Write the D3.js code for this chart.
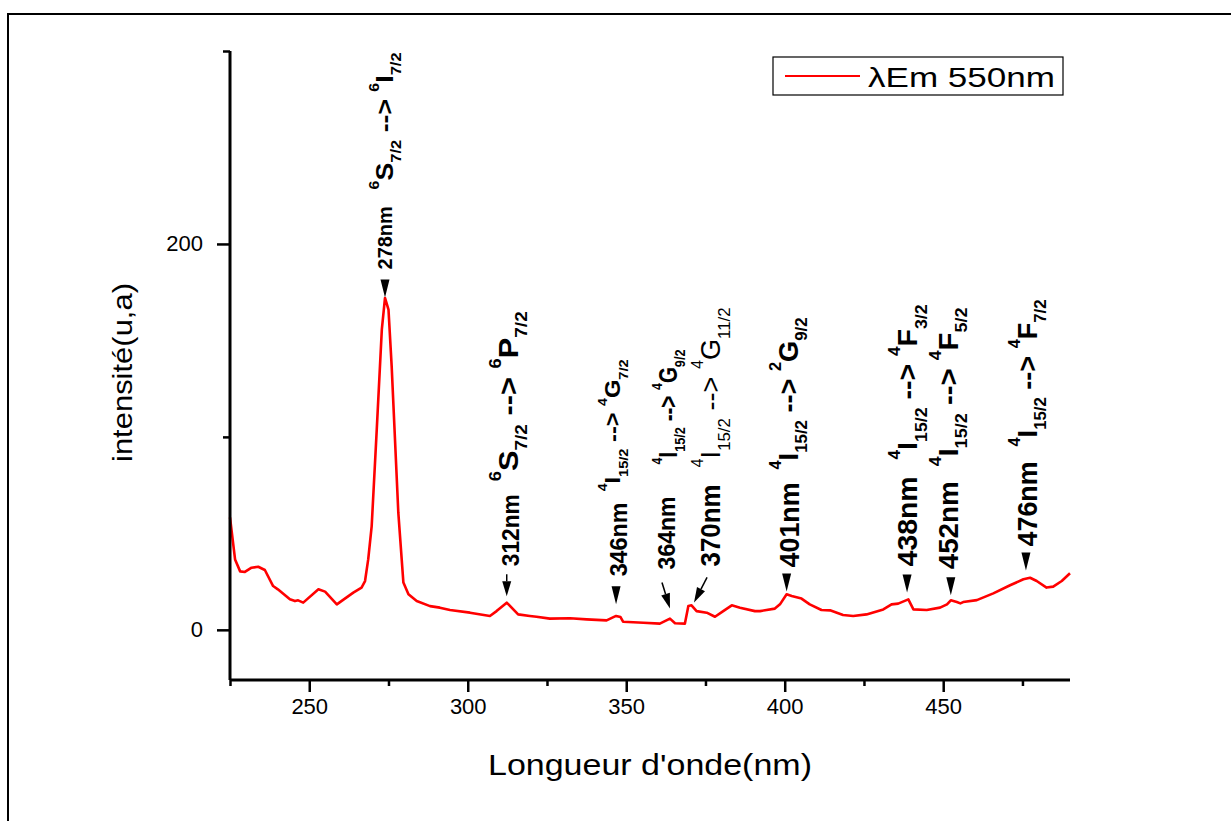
<!DOCTYPE html>
<html>
<head>
<meta charset="utf-8">
<script src="https://cdn.jsdelivr.net/npm/d3@7/dist/d3.min.js"></script>
<style>
  html, body { margin: 0; padding: 0; background: #fff; }
  svg { display: block; }
  text { font-family: "Liberation Sans", Arial, sans-serif; fill: #000; }
</style>
</head>
<body>
<svg id="chart" width="1231" height="821"></svg>
<script>
// Excitation spectrum recorded at an emission wavelength of 550 nm
const wavelength = [
  225, 226.6, 228.2, 229.7, 231.8, 233.9, 236, 238.6, 240.1, 243.9,
  245.5, 246.5, 248.1, 252.9, 255, 258.7, 263.9, 266.5, 267.6, 268.6,
  269.7, 271.3, 272.9, 273.9, 275, 276, 278.1, 279.7, 281.3, 283.9,
  288.1, 291.2, 294.4, 300.7, 307, 309.1, 312.3, 315.9, 319.6, 321.7,
  325.9, 332.3, 337.5, 343.8, 346.8, 348.2, 349, 355.4, 360.6, 363.8,
  365.4, 368.5, 369.6, 370.6, 372.2, 375.4, 378, 380.6, 383.3, 385.9,
  390.6, 392.2, 396.9, 398.5, 400.6, 402.2, 405.3, 407.9, 411.6, 414.3,
  418.4, 421.6, 425.8, 431.1, 433.7, 435.8, 439, 440.6, 444.8, 449,
  451.2, 452.4, 454.3, 455.4, 456.3, 460.6, 465.8, 471.1, 475.3, 477.4,
  479.5, 482.6, 484.7, 487.4, 490
];
const intensity = [
  58.3, 36.5, 30.3, 30, 32.2, 32.7, 31, 22.7, 21, 15.8,
  14.9, 15.3, 14.1, 21, 19.8, 13.2, 19.3, 21.9, 25.3, 36.5,
  53.8, 103.9, 155.7, 172, 166, 136.7, 60.7, 24.5, 18.4, 14.9,
  12.3, 11.5, 10.3, 8.9, 7.2, 9.7, 14.1, 8, 7.2, 6.8,
  5.8, 6, 5.4, 4.9, 7.2, 6.6, 4.2, 3.7, 3.2, 5.8,
  3.4, 3.2, 12.3, 12.7, 9.7, 8.9, 6.8, 9.7, 12.7, 11.5,
  9.7, 9.7, 11, 13.2, 18.4, 17.5, 16.2, 13.2, 10.3, 10.1,
  7.7, 7.2, 8, 10.6, 13.2, 13.6, 15.8, 10.6, 10.3, 11.5,
  13.2, 15.3, 14.4, 13.7, 14.4, 15.4, 18.9, 23.1, 26.2, 27,
  25.3, 21.9, 22.4, 25.3, 29.3
];

const seriesName = "λEm 550nm";
const xTicks = [250, 300, 350, 400, 450];
const xMinorTicks = [225, 275, 325, 375, 425, 475];
const yTicks = [0, 200];
const yMinorTicks = [100, 300];

// Peak assignments: where each arrow points and what it says
const notePeak = [273.9, 312.3, 346.8, 363.8, 371.4, 400.6, 438.6, 452.4, 476.1];
const noteLevel = [172.3, 17.4, 13.2, 11.1, 14.2, 19.9, 19.4, 17.9, 30.8];
const noteLabel = ["278nm", "312nm", "346nm", "364nm", "370nm", "401nm", "438nm", "452nm", "476nm"];
const noteTransition = [
  "{^6}S{_7/2} --> {^6}I{_7/2}",
  "{^6}S{_7/2} --> {^6}P{_7/2}",
  "{^4}I{_15/2} --> {^4}G{_7/2}",
  "{^4}I{_15/2} --> {^4}G{_9/2}",
  "{^4}I{_15/2} --> {^4}G{_11/2}",
  "{^4}I{_15/2} --> {^2}G{_9/2}",
  "{^4}I{_15/2} --> {^4}F{_3/2}",
  "{^4}I{_15/2} --> {^4}F{_5/2}",
  "{^4}I{_15/2} --> {^4}F{_7/2}"
];

// Annotation layout (pixel offsets from the arrow tip)
const noteStyle = [
  { arrow: "head", lab: [7, -28, 63, 21], tr: [8, -108, 137, 23, "bold"] },
  { arrow: [0, -22], lab: [12, -30, 72, 24], tr: [11, -115, 170, 28, "bold"] },
  { arrow: "head", lab: [11, -28, 74, 24], tr: [4, -113, 132, 22, "bold"] },
  { arrow: [-8, -26], lab: [5, -39, 73, 24], tr: [7, -144, 115, 25, "bold"] },
  { arrow: [13, -25], lab: [26, -36, 82, 28], tr: [26, -135, 160, 28, "normal"] },
  { arrow: "head", lab: [12, -24, 85, 28], tr: [11, -122, 152, 28, "bold"] },
  { arrow: "head", lab: [10, -26, 90, 28], tr: [10, -133, 155, 28, "bold"] },
  { arrow: "head", lab: [7, -26, 88, 28], tr: [7, -129, 159, 28, "bold"] },
  { arrow: "head", lab: [11, -24, 85, 28], tr: [11, -124, 147, 28, "bold"] }
];

const svg = d3.select("#chart");
const plot = { left: 230, right: 1070, top: 51, bottom: 680 };

const x = d3.scaleLinear().domain([225, 490]).range([plot.left, plot.right]);
const y = d3.scaleLinear().domain([-26, 300]).range([plot.bottom, plot.top]);

// outer frame (top and left borders)
svg.append("path")
  .attr("d", "M8,821 L8,14 L1231,14")
  .attr("fill", "none").attr("stroke", "#000").attr("stroke-width", 2);

// spectrum
const pts = wavelength.map((w, i) => [w, intensity[i]]);
svg.append("path")
  .datum(pts)
  .attr("fill", "none")
  .attr("stroke", "#ff0000")
  .attr("stroke-width", 2.6)
  .attr("stroke-linejoin", "round")
  .attr("d", d3.line().x(d => x(d[0])).y(d => y(d[1])));

// axes
const xAxis = svg.append("g").attr("transform", `translate(0,${plot.bottom})`)
  .call(d3.axisBottom(x).tickValues(xTicks).tickSize(12).tickPadding(6).tickFormat(d3.format("d")));
svg.append("g").attr("transform", `translate(0,${plot.bottom})`)
  .call(d3.axisBottom(x).tickValues(xMinorTicks).tickSize(6).tickFormat(""))
  .select(".domain").remove();
const yAxis = svg.append("g").attr("transform", `translate(${plot.left},0)`)
  .call(d3.axisLeft(y).tickValues(yTicks).tickSize(13).tickPadding(14).tickFormat(d3.format("d")));
svg.append("g").attr("transform", `translate(${plot.left},0)`)
  .call(d3.axisLeft(y).tickValues(yMinorTicks).tickSize(7).tickFormat(""))
  .select(".domain").remove();

svg.selectAll(".domain").attr("stroke", "#000").attr("stroke-width", 3);
svg.selectAll(".tick line").attr("stroke", "#000").attr("stroke-width", 2.5);
xAxis.selectAll(".tick text").attr("font-size", 22).attr("font-family", "'Liberation Sans', Arial, sans-serif");
yAxis.selectAll(".tick text").attr("font-size", 22).attr("font-family", "'Liberation Sans', Arial, sans-serif");
xAxis.select(".domain").attr("d", `M${plot.left},0H${plot.right}`);
yAxis.select(".domain").attr("d", `M0,${plot.bottom}V${plot.top}`);

// axis titles
svg.append("text")
  .attr("x", 488).attr("y", 775)
  .attr("font-size", 30)
  .attr("textLength", 324).attr("lengthAdjust", "spacingAndGlyphs")
  .text("Longueur d'onde(nm)");
svg.append("text")
  .attr("transform", "translate(132,462) rotate(-90)")
  .attr("font-size", 28)
  .attr("textLength", 179).attr("lengthAdjust", "spacingAndGlyphs")
  .text("intensité(u,a)");

// legend
const leg = svg.append("g");
leg.append("rect").attr("x", 773).attr("y", 57).attr("width", 290).attr("height", 38)
  .attr("fill", "#fff").attr("stroke", "#000").attr("stroke-width", 1.2);
leg.append("line").attr("x1", 785).attr("x2", 860).attr("y1", 76).attr("y2", 76)
  .attr("stroke", "#ff0000").attr("stroke-width", 2);
leg.append("text").attr("x", 868).attr("y", 87).attr("font-size", 28)
  .attr("textLength", 187).attr("lengthAdjust", "spacingAndGlyphs")
  .text(seriesName);

// rich text with super/subscripts: {^..} and {_..}
function richText(textSel, str, size) {
  const re = /\{([\^_])([^}]*)\}|([^{]+)/g;
  let m, shift = 0;
  while ((m = re.exec(str))) {
    let fs = size, target = 0, txt;
    if (m[1] === "^") {
      fs = size * 0.6;
      target = -size * 0.6;
      txt = m[2];
    } else if (m[1] === "_") {
      fs = size * 0.62;
      target = size * 0.34;
      txt = m[2];
    } else {
      txt = m[3];
    }
    textSel.append("tspan").attr("font-size", fs).attr("dy", target - shift).text(txt);
    shift = target;
  }
}

const notes = svg.append("g");
notePeak.forEach((w, i) => {
  const tx = x(w), ty = y(noteLevel[i]);
  const st = noteStyle[i];
  if (st.arrow === "head") {
    notes.append("path")
      .attr("d", `M${tx},${ty} L${tx - 4.5},${ty - 18} L${tx + 4.5},${ty - 18} Z`)
      .attr("fill", "#000");
  } else {
    const sx = tx + st.arrow[0], sy = ty + st.arrow[1];
    const ang = Math.atan2(ty - sy, tx - sx);
    const hl = 15, hw = 4.5;
    const bx = tx - hl * Math.cos(ang), by = ty - hl * Math.sin(ang);
    notes.append("line").attr("x1", sx).attr("y1", sy).attr("x2", bx).attr("y2", by)
      .attr("stroke", "#000").attr("stroke-width", 1.5);
    notes.append("path")
      .attr("d", `M${tx},${ty} L${bx - hw * Math.sin(ang)},${by + hw * Math.cos(ang)} L${bx + hw * Math.sin(ang)},${by - hw * Math.cos(ang)} Z`)
      .attr("fill", "#000");
  }
  const [ldx, ldy, llen, lfs] = st.lab;
  notes.append("text")
    .attr("transform", `translate(${tx + ldx},${ty + ldy}) rotate(-90)`)
    .attr("font-size", lfs).attr("font-weight", "bold")
    .attr("textLength", llen).attr("lengthAdjust", "spacingAndGlyphs")
    .text(noteLabel[i]);
  const [tdx, tdy, tlen, tfs, tw] = st.tr;
  const t = notes.append("text")
    .attr("transform", `translate(${tx + tdx},${ty + tdy}) rotate(-90)`)
    .attr("font-size", tfs).attr("font-weight", tw)
    .attr("textLength", tlen).attr("lengthAdjust", "spacingAndGlyphs");
  richText(t, noteTransition[i], tfs);
});
</script>
</body>
</html>
